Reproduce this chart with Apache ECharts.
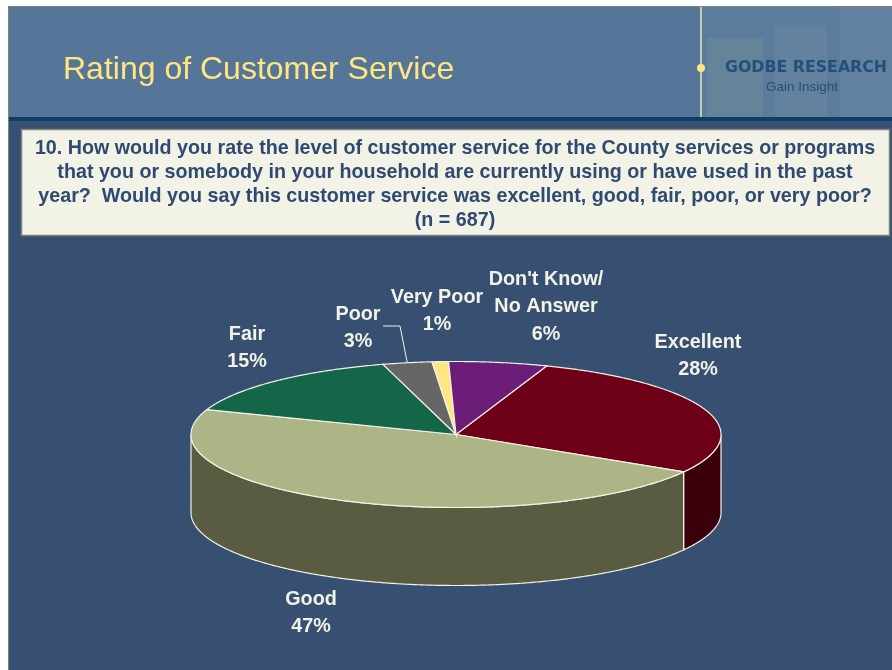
<!DOCTYPE html>
<html>
<head>
<meta charset="utf-8">
<style>html,body{margin:0;padding:0;background:#fff}#c{width:892px;height:670px}</style>
<script src="https://cdn.jsdelivr.net/npm/echarts@6/dist/echarts.min.js"></script>
</head>
<body>
<div id="c"></div>
<script>
const CATEGORIES = ['Excellent', 'Good', 'Fair', 'Poor', 'Very Poor', "Don't Know/\nNo Answer"];
const VALUES = [28, 47, 15, 3, 1, 6];
const TITLE = 'Rating of Customer Service';
const QUESTION = '10. How would you rate the level of customer service for the County services or programs\nthat you or somebody in your household are currently using or have used in the past\nyear?  Would you say this customer service was excellent, good, fair, poor, or very poor?\n(n = 687)';

const TOP_COLORS = ['#6E0017', '#ADB486', '#146648', '#666666', '#FFE680', '#6B1D78'];
const WALL_COLORS = ['#3A000C', '#595C41', '#0A3324', '#333333', '#807340', '#360F3C'];
const LABEL_POS = [[698, 356], [311, 613], [247, 348], [358, 328], [437, 311], [546, 307]];

const PIE = { cx: 456, cy: 434.5, rx: 265, ry: 73, depth: 78, start: 20 };
const EDGE = '#F2F2E6';
const total = VALUES.reduce((a, b) => a + b, 0);

function pt(deg, dy) {
  const r = deg * Math.PI / 180;
  return [PIE.cx + PIE.rx * Math.sin(r), PIE.cy - PIE.ry * Math.cos(r) + (dy || 0)];
}
function arc(a, b, dy) {
  const out = [];
  const n = Math.max(2, Math.ceil(Math.abs(b - a) * 2));
  for (let i = 0; i <= n; i++) out.push(pt(a + (b - a) * i / n, dy));
  return out;
}
function renderSlice(params, api) {
  const i = params.dataIndex;
  let before = 0;
  for (let k = 0; k < i; k++) before += VALUES[k];
  const a = PIE.start + before / total * 360;
  const b = a + api.value(0) / total * 360;
  const children = [];
  // Front wall: the part of the rim facing the viewer (90deg to 270deg)
  const w0 = Math.max(a, 90), w1 = Math.min(b, 270);
  if (w1 > w0) {
    children.push({
      type: 'polygon',
      shape: { points: arc(w0, w1, 0).concat(arc(w1, w0, PIE.depth)) },
      style: { fill: WALL_COLORS[i], stroke: EDGE, lineWidth: 1.2 }
    });
  }
  children.push({
    type: 'polygon',
    shape: { points: [[PIE.cx, PIE.cy]].concat(arc(a, b, 0)) },
    style: { fill: TOP_COLORS[i], stroke: EDGE, lineWidth: 1.2 }
  });
  const lp = LABEL_POS[i];
  if (CATEGORIES[i] === 'Poor') {
    const end = pt((a + b) / 2, 0);
    children.push({
      type: 'polyline',
      shape: { points: [[lp[0] + 25, lp[1] - 2], [lp[0] + 42, lp[1] - 2], end] },
      style: { fill: null, stroke: EDGE, lineWidth: 1 }
    });
  }
  children.push({
    type: 'text',
    style: {
      text: CATEGORIES[i] + '\n' + api.value(0) + '%',
      x: lp[0], y: lp[1],
      align: 'center', verticalAlign: 'middle',
      font: 'bold 19.8px "Liberation Sans", Arial, sans-serif',
      lineHeight: 27.5,
      fill: EDGE
    }
  });
  return { type: 'group', children };
}

const rect = (x, y, w, h, fill, extra) => Object.assign({
  type: 'rect', shape: { x, y, width: w, height: h }, style: Object.assign({ fill }, extra || {}), silent: true
});

const chart = echarts.init(document.getElementById('c'), null, { renderer: 'canvas', width: 892, height: 670 });
chart.setOption({
  animation: false,
  backgroundColor: '#FFFFFF',
  graphic: { elements: [
    rect(8, 6, 884, 664, '#808080'),
    rect(9, 7, 883, 663, '#375072'),
    rect(9, 7, 883, 110, '#567699'),
    rect(702, 7, 190, 110, '#5C7C9C'),
    rect(707, 38, 56, 79, '#668499'),
    rect(775, 25, 52, 92, '#64829F'),
    rect(840, 7, 52, 110, '#62809F'),
    rect(9, 117, 883, 4, '#0C3F66'),
    rect(700, 7, 2, 110, '#C5CDB8'),
    { type: 'circle', shape: { cx: 701, cy: 68, r: 4 }, style: { fill: '#FFE680' }, silent: true },
    { type: 'text', style: { text: 'GODBE RESEARCH', x: 806, y: 68, align: 'center', verticalAlign: 'middle',
      font: 'bold 15.8px "DejaVu Sans", sans-serif', fill: '#235078' }, silent: true },
    { type: 'text', style: { text: 'Gain Insight', x: 802, y: 87, align: 'center', verticalAlign: 'middle',
      font: '13.5px "Liberation Sans", sans-serif', fill: '#235078' }, silent: true },
    { type: 'text', style: { text: TITLE, x: 63, y: 70, align: 'left', verticalAlign: 'middle',
      font: '32px "Liberation Sans", Arial, sans-serif', fill: '#FFE680' }, silent: true },
    rect(21.5, 129.5, 868, 106, '#F2F2E6', { stroke: '#808080', lineWidth: 1.5 }),
    { type: 'text', style: { text: QUESTION, x: 455, y: 184.5, align: 'center', verticalAlign: 'middle',
      font: 'bold 19.7px "Liberation Sans", Arial, sans-serif', lineHeight: 24, fill: '#2F4A70' }, silent: true }
  ] },
  series: [{
    type: 'custom',
    coordinateSystem: 'none',
    clip: false,
    silent: true,
    data: VALUES.map(v => [v]),
    renderItem: renderSlice,
    z: 5
  }]
});
</script>
</body>
</html>
